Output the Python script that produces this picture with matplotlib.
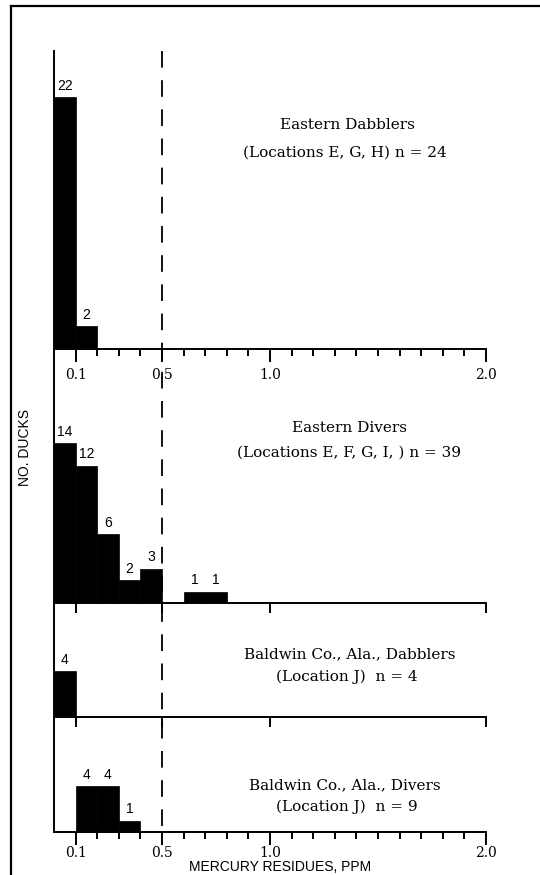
import matplotlib
matplotlib.use("Agg")
import matplotlib.pyplot as plt
import matplotlib.transforms as mtransforms
from matplotlib.lines import Line2D
from matplotlib.ticker import FixedLocator, NullLocator

# ---------------- data ----------------
bin_width = 0.1
titles = ["Eastern Dabblers", "Eastern Divers",
          "Baldwin Co., Ala., Dabblers", "Baldwin Co., Ala., Divers"]
subtitles = ["(Locations E, G, H) n = 24", "(Locations E, F, G, I, ) n = 39",
             "(Location J)  n = 4", "(Location J)  n = 9"]

east_dab_bins = [0.0, 0.1]
east_dab_counts = [22, 2]
east_div_bins = [0.0, 0.1, 0.2, 0.3, 0.4, 0.6, 0.7]
east_div_counts = [14, 12, 6, 2, 3, 1, 1]
bald_dab_bins = [0.0]
bald_dab_counts = [4]
bald_div_bins = [0.1, 0.2, 0.3]
bald_div_counts = [4, 4, 1]

major_ticks = [0.1, 0.5, 1.0, 2.0]
major_labels = ["0.1", "0.5", "1.0", "2.0"]
minor_ticks = [i / 10 for i in range(1, 21)]
threshold = 0.5
xlabel = "MERCURY RESIDUES, PPM"
ylabel = "NO. DUCKS"

# ---------------- layout ----------------
W, H = 540, 875
fig = plt.figure(figsize=(W / 100, H / 100), dpi=100)
plt.rcParams["lines.scale_dashes"] = False

left_px, right_px = 54, 486
edges = [51, 349, 603, 717, 832]
px_per_unit = 11.45
serif = "DejaVu Serif"
sans = "Liberation Sans"

series = [(east_dab_bins, east_dab_counts), (east_div_bins, east_div_counts),
          (bald_dab_bins, bald_dab_counts), (bald_div_bins, bald_div_counts)]
title_pos = [((347, 125), (345, 153)), ((350, 428), (349, 453)),
             ((350, 654), (347, 677)), ((345, 785), (347, 807))]

axes = []
for i, (bins, counts) in enumerate(series):
    top, bot = edges[i], edges[i + 1]
    ax = fig.add_axes([left_px / W, 1 - bot / H, (right_px - left_px) / W, (bot - top) / H])
    ax.set_xlim(0, 2.0)
    ax.set_ylim(0, (bot - top) / px_per_unit)
    ax.bar(bins, counts, width=bin_width, align="edge", color="black", edgecolor="black", linewidth=0.5)
    for b, c in zip(bins, counts):
        ax.annotate(str(c), (b + bin_width / 2, c), xytext=(0, 3), textcoords="offset points",
                    ha="center", va="bottom", fontsize=10, family=sans)
    for s in ["top", "right"]:
        ax.spines[s].set_visible(False)
    for s in ["left", "bottom"]:
        ax.spines[s].set_linewidth(1.4)
    ax.yaxis.set_major_locator(NullLocator())
    ax.xaxis.set_major_locator(FixedLocator(major_ticks))
    if i in (0, 3):
        ax.xaxis.set_minor_locator(FixedLocator(minor_ticks))
        ax.set_xticklabels(major_labels, family=serif, fontsize=10)
        ax.tick_params(axis="x", which="major", direction="out", length=9, width=1.4,
                       pad=5 if i == 0 else 1)
        ax.tick_params(axis="x", which="minor", direction="out", length=5, width=1.4)
    else:
        ax.xaxis.set_minor_locator(NullLocator())
        ax.set_xticklabels([])
        ax.tick_params(axis="x", which="major", direction="out", length=7, width=1.4)
    ax.patch.set_alpha(0)
    (t1x, t1y), (t2x, t2y) = title_pos[i]
    fig.text(t1x / W, 1 - t1y / H, titles[i], ha="center", va="center", family=serif, fontsize=11)
    fig.text(t2x / W, 1 - t2y / H, subtitles[i], ha="center", va="center", family=serif, fontsize=11)
    axes.append(ax)

# dashed threshold line across all panels
trans = mtransforms.blended_transform_factory(axes[-1].transData, fig.transFigure)
fig.add_artist(Line2D([threshold, threshold], [1 - edges[0] / H, 1 - edges[-1] / H],
                      transform=trans, color="black", linewidth=1.3,
                      linestyle=(0, (12, 9))))

# axis labels
fig.text(280 / W, 1 - 867 / H, xlabel, ha="center", va="center", family=sans, fontsize=10)
fig.text(25 / W, 1 - 448 / H, ylabel, ha="center", va="center", family=sans, fontsize=10,
         rotation=90)

# outer frame (top and left)
fig.add_artist(Line2D([11 / W, 1.0], [1 - 6 / H, 1 - 6 / H], transform=fig.transFigure,
                      color="black", linewidth=1.6))
fig.add_artist(Line2D([11 / W, 11 / W], [1 - 6 / H, 0.0], transform=fig.transFigure,
                      color="black", linewidth=1.6))

fig.savefig("out.png", dpi=100)
